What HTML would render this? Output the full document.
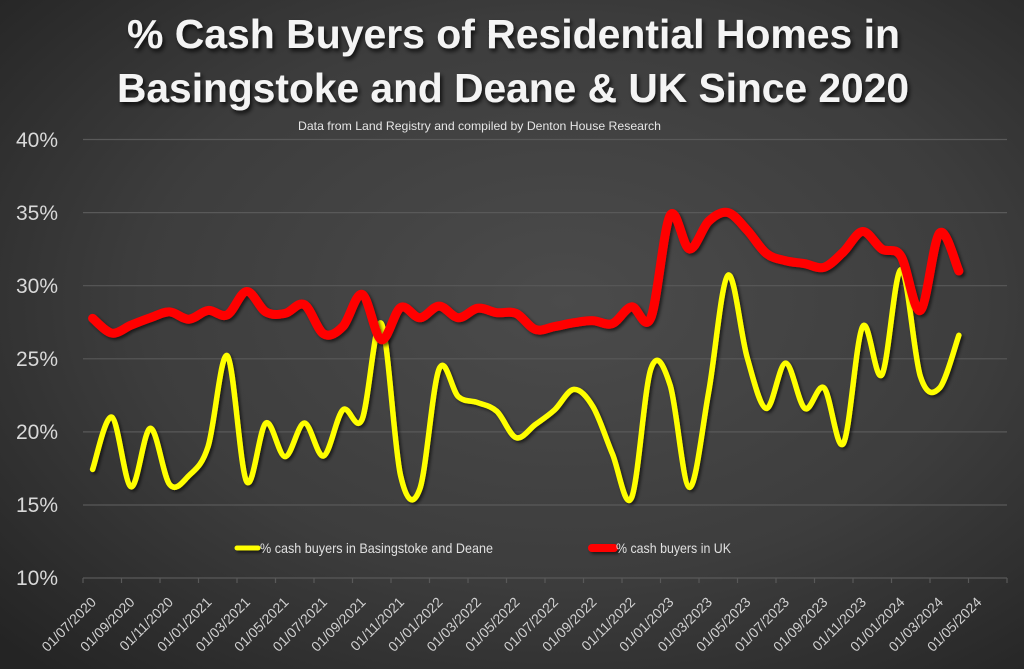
<!DOCTYPE html>
<html><head><meta charset="utf-8">
<style>
html,body{margin:0;padding:0;width:1024px;height:669px;overflow:hidden;background:#333;}
svg{display:block;}
</style></head>
<body>
<svg id="c" width="1024" height="669" viewBox="0 0 1024 669" xmlns="http://www.w3.org/2000/svg">
<defs>
<radialGradient id="bg" cx="0.55" cy="0.45" r="0.75">
<stop offset="0" stop-color="#4b4b4b"/>
<stop offset="0.55" stop-color="#3d3d3d"/>
<stop offset="1" stop-color="#242424"/>
</radialGradient>
<filter id="sh" x="-5%" y="-20%" width="110%" height="140%">
<feDropShadow dx="2" dy="2" stdDeviation="1.5" flood-color="#000" flood-opacity="0.6"/>
</filter>
<filter id="shu" filterUnits="userSpaceOnUse" x="0" y="0" width="1024" height="669">
<feDropShadow dx="2" dy="2" stdDeviation="1.5" flood-color="#000" flood-opacity="0.6"/>
</filter>
<filter id="tsh" x="-5%" y="-20%" width="110%" height="150%">
<feDropShadow dx="2" dy="3" stdDeviation="2" flood-color="#000" flood-opacity="0.75"/>
</filter>
</defs>
<rect x="0" y="0" width="1024" height="669" fill="url(#bg)"/>

<g font-family="'Liberation Sans', sans-serif" font-weight="bold" fill="#f4f4f4" filter="url(#tsh)">
<text x="127" y="48" font-size="41" textLength="773" lengthAdjust="spacingAndGlyphs">% Cash Buyers of Residential Homes in</text>
<text x="117" y="102" font-size="41" textLength="792" lengthAdjust="spacingAndGlyphs">Basingstoke and Deane &amp; UK Since 2020</text>
</g>
<text x="298" y="130" font-family="'Liberation Sans', sans-serif" font-size="12" fill="#e6e6e6" textLength="363" lengthAdjust="spacingAndGlyphs">Data from Land Registry and compiled by Denton House Research</text>

<g stroke="#595959" stroke-width="1.2">
<line x1="83" y1="139.5" x2="1007" y2="139.5"/>
<line x1="83" y1="212.6" x2="1007" y2="212.6"/>
<line x1="83" y1="285.7" x2="1007" y2="285.7"/>
<line x1="83" y1="358.8" x2="1007" y2="358.8"/>
<line x1="83" y1="431.9" x2="1007" y2="431.9"/>
<line x1="83" y1="505" x2="1007" y2="505"/>
<line x1="83" y1="578" x2="1007" y2="578"/>
</g>
<g id="ticks" stroke="#595959" stroke-width="1.2"></g>

<g font-family="'Liberation Sans', sans-serif" font-size="21" fill="#d9d9d9" text-anchor="end">
<text x="58" y="147">40%</text>
<text x="58" y="220">35%</text>
<text x="58" y="293">30%</text>
<text x="58" y="366">25%</text>
<text x="58" y="439">20%</text>
<text x="58" y="512">15%</text>
<text x="58" y="585">10%</text>
</g>

<g id="xl" font-family="'Liberation Sans', sans-serif" font-size="14" fill="#d0d0d0" text-anchor="end">
<text transform="translate(97,603) rotate(-45)">01/07/2020</text>
<text transform="translate(135.5,603) rotate(-45)">01/09/2020</text>
<text transform="translate(174,603) rotate(-45)">01/11/2020</text>
<text transform="translate(212.5,603) rotate(-45)">01/01/2021</text>
<text transform="translate(251,603) rotate(-45)">01/03/2021</text>
<text transform="translate(289.5,603) rotate(-45)">01/05/2021</text>
<text transform="translate(328,603) rotate(-45)">01/07/2021</text>
<text transform="translate(366.5,603) rotate(-45)">01/09/2021</text>
<text transform="translate(405,603) rotate(-45)">01/11/2021</text>
<text transform="translate(443.5,603) rotate(-45)">01/01/2022</text>
<text transform="translate(482,603) rotate(-45)">01/03/2022</text>
<text transform="translate(520.5,603) rotate(-45)">01/05/2022</text>
<text transform="translate(559,603) rotate(-45)">01/07/2022</text>
<text transform="translate(597.5,603) rotate(-45)">01/09/2022</text>
<text transform="translate(636,603) rotate(-45)">01/11/2022</text>
<text transform="translate(674.5,603) rotate(-45)">01/01/2023</text>
<text transform="translate(713,603) rotate(-45)">01/03/2023</text>
<text transform="translate(751.5,603) rotate(-45)">01/05/2023</text>
<text transform="translate(790,603) rotate(-45)">01/07/2023</text>
<text transform="translate(828.5,603) rotate(-45)">01/09/2023</text>
<text transform="translate(867,603) rotate(-45)">01/11/2023</text>
<text transform="translate(905.5,603) rotate(-45)">01/01/2024</text>
<text transform="translate(944,603) rotate(-45)">01/03/2024</text>
<text transform="translate(982.5,603) rotate(-45)">01/05/2024</text>
</g>

<path id="yl" d="" fill="none" stroke="#FFFF00" stroke-width="5.5" stroke-linecap="round" stroke-linejoin="round" filter="url(#shu)"/>
<path id="rl" d="" fill="none" stroke="#FF0000" stroke-width="9" stroke-linecap="round" stroke-linejoin="round" filter="url(#shu)"/>

<line x1="237" y1="548" x2="258" y2="548" stroke="#FFFF00" stroke-width="5" stroke-linecap="round" filter="url(#shu)"/>
<text x="260" y="553" font-family="'Liberation Sans', sans-serif" font-size="14" fill="#e0e0e0" textLength="233" lengthAdjust="spacingAndGlyphs">% cash buyers in Basingstoke and Deane</text>
<line x1="592" y1="548" x2="614" y2="548" stroke="#FF0000" stroke-width="8" stroke-linecap="round" filter="url(#shu)"/>
<text x="616" y="553" font-family="'Liberation Sans', sans-serif" font-size="14" fill="#e0e0e0" textLength="115" lengthAdjust="spacingAndGlyphs">% cash buyers in UK</text>
</svg>
<script>
(function(){
var Y=[17.43,21.0,16.24,20.24,16.4,17.0,19.0,25.2,16.6,20.6,18.3,20.6,18.35,21.5,20.85,27.4,17.0,16.1,24.3,22.4,22.0,21.4,19.6,20.5,21.5,22.9,21.7,18.5,15.5,24.3,23.2,16.2,22.7,30.7,25.1,21.6,24.7,21.6,23.0,19.2,27.2,23.9,31.1,23.8,23.0,26.6];
var R=[27.76,26.75,27.3,27.8,28.2,27.7,28.3,28.0,29.6,28.2,28.1,28.7,26.7,27.2,29.4,26.3,28.5,27.8,28.6,27.8,28.45,28.15,28.1,27.0,27.2,27.46,27.6,27.4,28.55,27.8,34.8,32.5,34.4,35.0,33.8,32.2,31.7,31.5,31.25,32.3,33.7,32.5,32.0,28.3,33.6,31.0];
function pts(a){return a.map(function(v,i){return [92.6+19.25*i,578-(v-10)*14.62];});}
function path(p){
var d="M"+p[0][0].toFixed(2)+","+p[0][1].toFixed(2);
for(var i=0;i<p.length-1;i++){
var p0=p[i-1]||p[i],p1=p[i],p2=p[i+1],p3=p[i+2]||p[i+1];
var c1x=p1[0]+(p2[0]-p0[0])/6,c1y=p1[1]+(p2[1]-p0[1])/6;
var c2x=p2[0]-(p3[0]-p1[0])/6,c2y=p2[1]-(p3[1]-p1[1])/6;
d+=" C"+c1x.toFixed(2)+","+c1y.toFixed(2)+" "+c2x.toFixed(2)+","+c2y.toFixed(2)+" "+p2[0].toFixed(2)+","+p2[1].toFixed(2);
}
return d;}
document.getElementById("yl").setAttribute("d",path(pts(Y)));
document.getElementById("rl").setAttribute("d",path(pts(R)));
var g=document.getElementById("ticks"),ns="http://www.w3.org/2000/svg";
for(var k=0;k<25;k++){var l=document.createElementNS(ns,"line");var x=83+38.5*k;
l.setAttribute("x1",x);l.setAttribute("x2",x);l.setAttribute("y1",578);l.setAttribute("y2",583);g.appendChild(l);}
})();
</script>
</body></html>
